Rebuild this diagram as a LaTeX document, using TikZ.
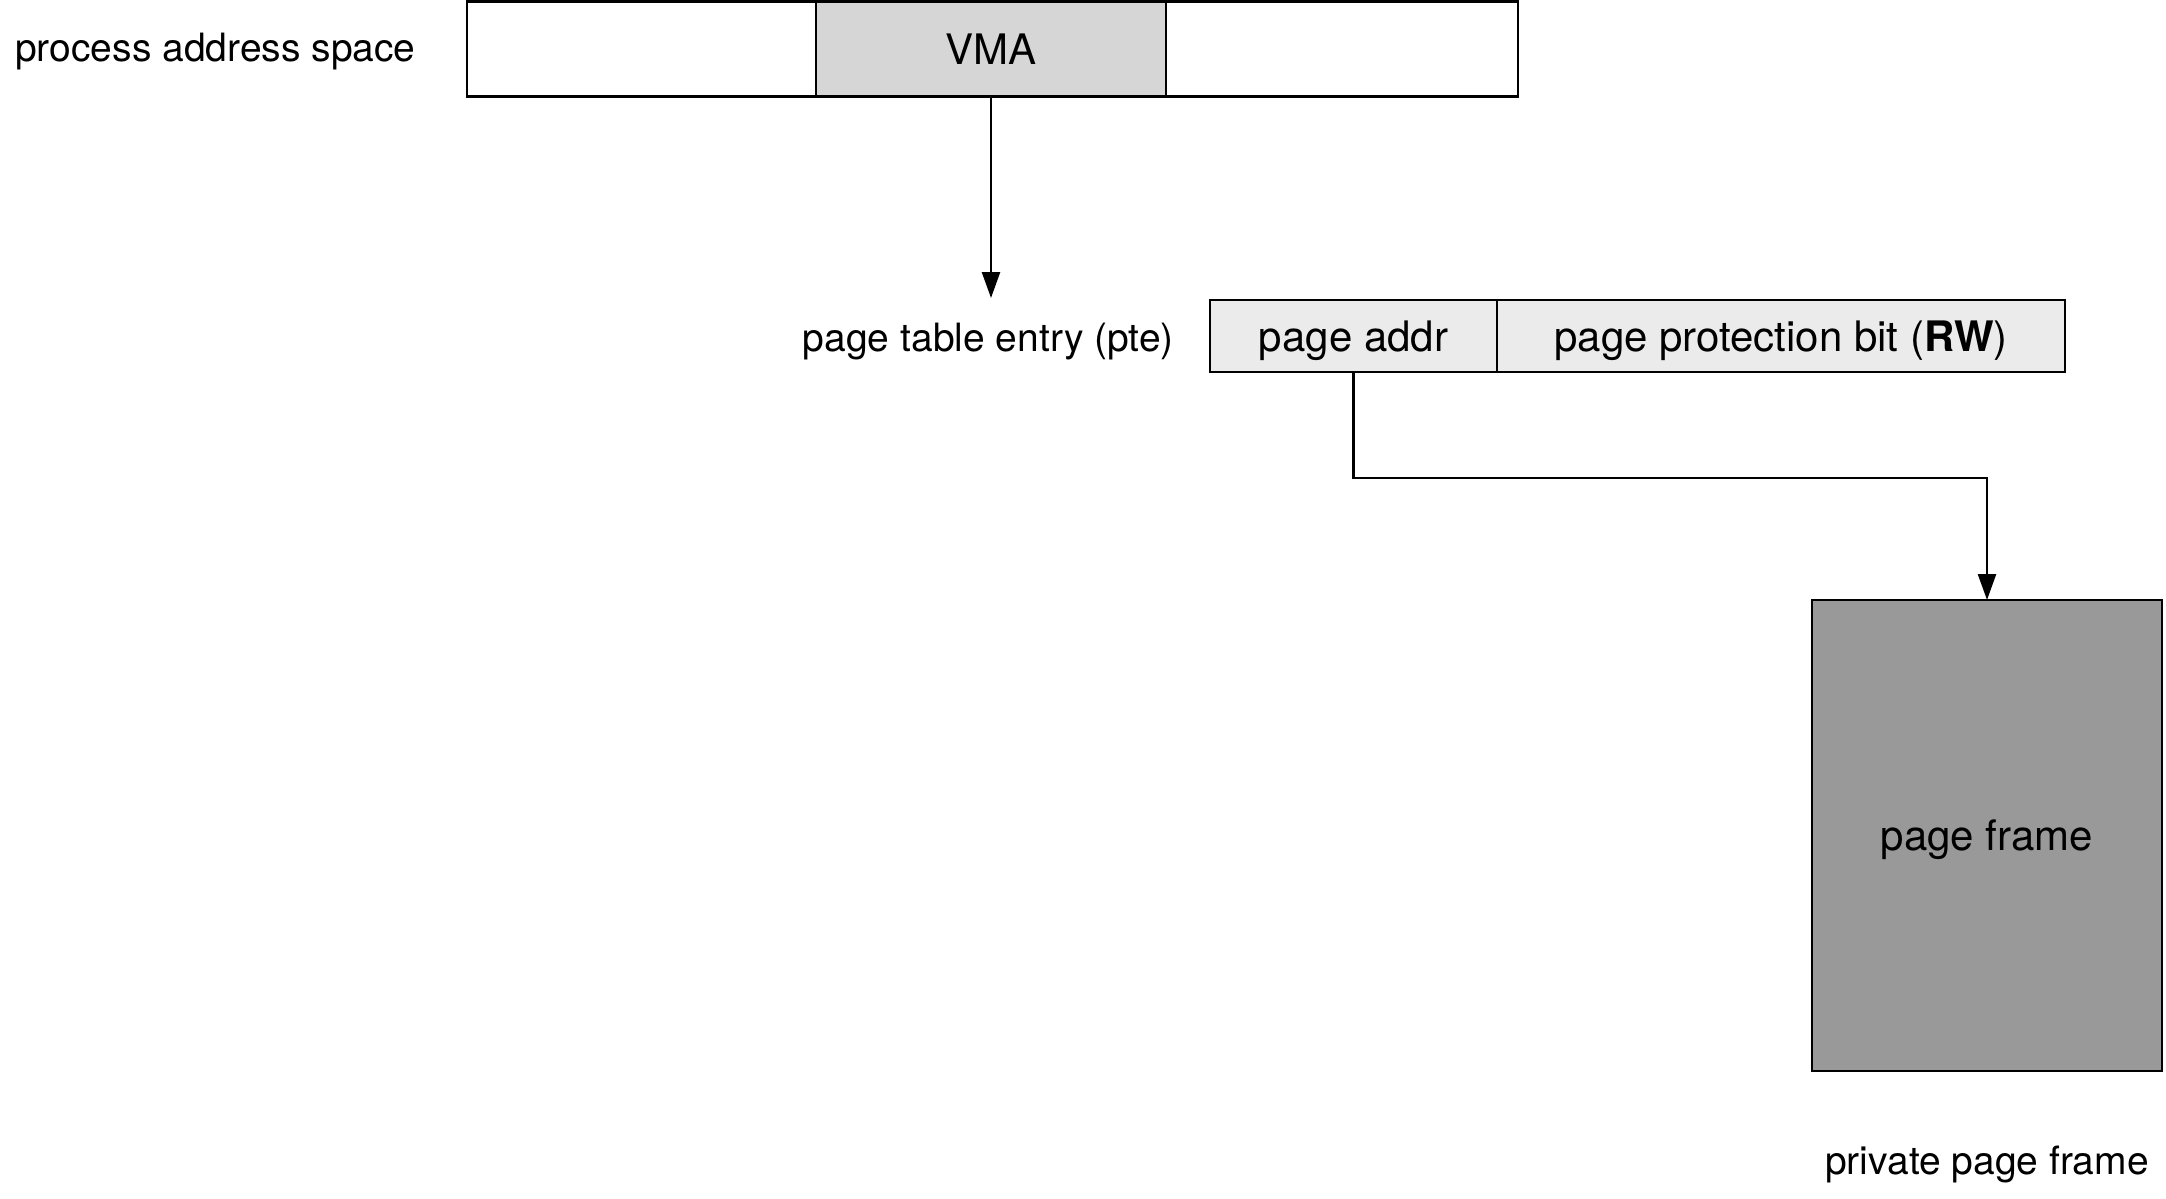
\documentclass[tikz,border=0pt]{standalone}
\usepackage{fontspec}
\setmainfont{TeX Gyre Heros}
\usetikzlibrary{arrows.meta}
\definecolor{vmagray}{HTML}{D6D6D6}
\definecolor{ptegray}{HTML}{EBEBEB}
\definecolor{framegray}{HTML}{999999}
\tikzset{
  seg/.style={draw=black, line width=2.5pt, inner sep=0pt, outer sep=0pt, text depth=0pt, font=\fontsize{42}{50}\selectfont},
  lbl/.style={inner sep=0pt, text depth=0pt, font=\fontsize{39}{46}\selectfont},
  conn/.style={draw=black, line width=2.5pt, -{Triangle[length=26pt,width=18pt]}}
}
\begin{document}
\begin{tikzpicture}[x=1pt,y=-1pt]
\useasboundingbox (0,0) rectangle (2166,1199);
% process address space
\node[seg, fill=white, minimum width=349pt, minimum height=95pt] (pl) at (641.5,49) {};
\node[seg, fill=vmagray, minimum width=350pt, minimum height=95pt] (vma) at (991,49) {VMA};
\node[seg, fill=white, minimum width=352pt, minimum height=95pt] (pr) at (1342,49) {};
\node[lbl, anchor=west] (pas) at (15,47) {process address space};
% page table entry
\node[seg, fill=ptegray, minimum width=287pt, minimum height=72pt] (pa) at (1353.5,336) {page addr};
\node[seg, fill=ptegray, minimum width=568pt, minimum height=72pt] (pp) at (1781,336) {page protection bit (\textbf{RW})};
\node[lbl, anchor=east] (pte) at (1174,337) {page table entry (pte)};
% page frame
\node[seg, fill=framegray, minimum width=350pt, minimum height=471pt] (frame) at (1987,835.5) {page frame};
\node[lbl] (ppf) at (1987,1160) {private page frame};
% connectors
\coordinate (ptetip) at (991,298);
\draw[conn] (vma.south) -- (ptetip);
\draw[conn] (pa.south) -- ++(0,106) -| (frame.north);
\end{tikzpicture}
\end{document}
